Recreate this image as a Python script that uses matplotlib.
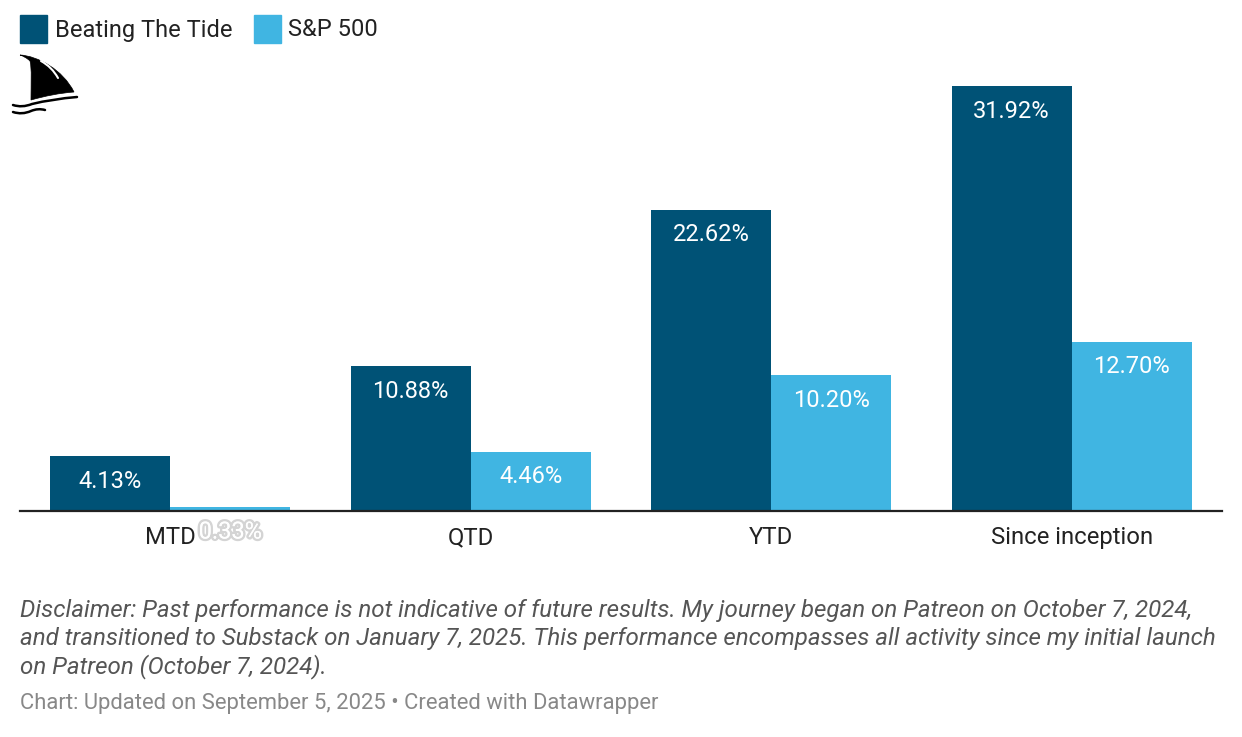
import matplotlib
matplotlib.use("Agg")
import matplotlib.pyplot as plt
import matplotlib.patheffects as pe
from matplotlib.path import Path
from matplotlib.patches import PathPatch, Rectangle
import numpy as np

# data
categories = ["MTD", "QTD", "YTD", "Since inception"]
series_names = ["Beating The Tide", "S&P 500"]
beating = [4.13, 10.88, 22.62, 31.92]
sp500 = [0.33, 4.46, 10.20, 12.70]

disclaimer_lines = [
    "Disclaimer: Past performance is not indicative of future results. My journey began on Patreon on October 7, 2024,",
    "and transitioned to Substack on January 7, 2025. This performance encompasses all activity since my initial launch",
    "on Patreon (October 7, 2024).",
]
footer = "Chart: Updated on September 5, 2025 \u2022 Created with Datawrapper"

colors = ["#005276", "#40b5e2"]
FONT = "Roboto"
W, H = 1242, 737

plt.rcParams["font.family"] = [FONT, "DejaVu Sans"]

fig = plt.figure(figsize=(W / 100, H / 100), dpi=100)

def px(x0, y0, x1, y1):
    # pixel box (top-left origin) -> figure rect
    return [x0 / W, 1 - y1 / H, (x1 - x0) / W, (y1 - y0) / H]

ax = fig.add_axes(px(20, 85, 1222, 511))
x = np.arange(len(categories))
width = 0.4
bars1 = ax.bar(x - width / 2, beating, width, color=colors[0], zorder=2)
bars2 = ax.bar(x + width / 2, sp500, width, color=colors[1], zorder=2)
ax.set_xlim(-0.5, 3.5)
ax.set_ylim(0, 32)
for s in ["top", "right", "left"]:
    ax.spines[s].set_visible(False)
ax.spines["bottom"].set_color("#222222")
ax.spines["bottom"].set_linewidth(1.6)
ax.spines["bottom"].set_zorder(3)
ax.set_yticks([])
ax.set_xticks(x)
ax.set_xticklabels(categories, fontsize=17.2, color="#222222")
ax.tick_params(axis="x", length=0, pad=11)

for bars, vals in [(bars1, beating), (bars2, sp500)]:
    for b, v in zip(bars, vals):
        cx = b.get_x() + b.get_width() / 2
        if v > 2:
            ax.annotate(f"{v:.2f}%", (cx, v), xytext=(0, -25), textcoords="offset pixels",
                        ha="center", va="center", fontsize=17, color="white", zorder=4)
        else:
            # too small to fit inside: put it under the baseline with a soft halo
            ax.annotate(f"{v:.2f}%", (cx, 0), xytext=(0, -21), textcoords="offset pixels",
                        ha="center", va="center", fontsize=17, color="white", zorder=4,
                        path_effects=[pe.withStroke(linewidth=3.5, foreground="#d4d4d4"), pe.Normal()])

# legend
fig.patches.append(Rectangle((20 / W, 1 - 43 / H), 27 / W, 28 / H, transform=fig.transFigure,
                             color=colors[0], figure=fig))
fig.text(55 / W, 1 - 30 / H, series_names[0], fontsize=17, color="#222222", va="center")
fig.patches.append(Rectangle((254 / W, 1 - 43 / H), 27 / W, 28 / H, transform=fig.transFigure,
                             color=colors[1], figure=fig))
fig.text(288 / W, 1 - 30 / H, series_names[1], fontsize=17, color="#222222", va="center")

# shark fin logo
lax = fig.add_axes(px(0, 40, 100, 120))
lax.set_xlim(0, 100)
lax.set_ylim(120, 40)
lax.axis("off")
fin = Path([(20, 55), (38, 56), (63, 70), (74, 92),
            (60, 93), (45, 96), (31, 100),
            (31, 85), (32, 68), (30, 61),
            (27, 58), (23, 56), (20, 55)],
           [Path.MOVETO, Path.CURVE4, Path.CURVE4, Path.CURVE4,
            Path.CURVE4, Path.CURVE4, Path.CURVE4,
            Path.CURVE4, Path.CURVE4, Path.CURVE4,
            Path.CURVE4, Path.CURVE4, Path.CURVE4])
lax.add_patch(PathPatch(fin, facecolor="black", edgecolor="black", lw=0.5))
hl = Path([(41, 61), (52, 67), (58, 78)], [Path.MOVETO, Path.CURVE3, Path.CURVE3])
lax.add_patch(PathPatch(hl, facecolor="none", edgecolor="white", lw=1.5, capstyle="round"))
w1 = Path([(13, 105), (22, 108), (32, 104), (52, 99), (77, 97)],
          [Path.MOVETO, Path.CURVE3, Path.CURVE3, Path.CURVE3, Path.CURVE3])
lax.add_patch(PathPatch(w1, facecolor="none", edgecolor="black", lw=1.8, capstyle="round"))
w2 = Path([(13, 112), (22, 115), (31, 111), (38, 108), (45, 110)],
          [Path.MOVETO, Path.CURVE3, Path.CURVE3, Path.CURVE3, Path.CURVE3])
lax.add_patch(PathPatch(w2, facecolor="none", edgecolor="black", lw=1.8, capstyle="round"))

# notes
for i, line in enumerate(disclaimer_lines):
    fig.text(20 / W, 1 - (611 + 28 * i) / H, line, fontsize=17.4, style="italic",
             color="#555555", va="center")
fig.text(20 / W, 1 - 703 / H, footer, fontsize=15.8, color="#888888", va="center")

fig.savefig("out.png", dpi=100)
